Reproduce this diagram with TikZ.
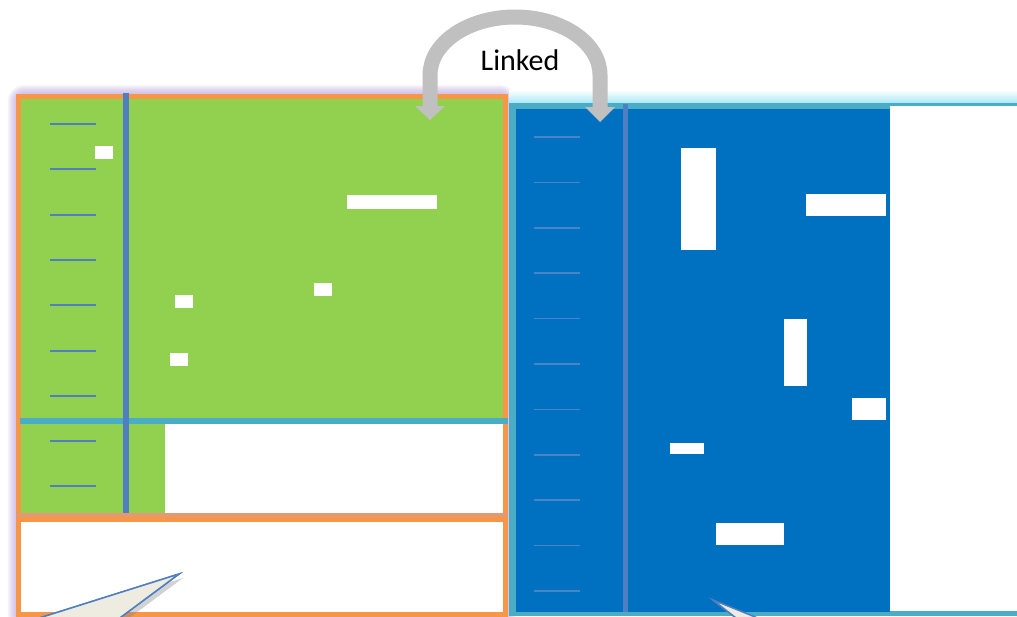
\documentclass[tikz,border=0pt]{standalone}
\usepackage{fontspec}
\setmainfont{Carlito}
\usetikzlibrary{shadows}
\definecolor{lgreen}{HTML}{92D050}
\definecolor{orng}{HTML}{F79646}
\definecolor{aqua}{HTML}{4BACC6}
\definecolor{dblue}{HTML}{0070C0}
\definecolor{sblue}{HTML}{4F7FC0}
\definecolor{tickb}{HTML}{4A86C6}
\definecolor{glowp}{HTML}{B8A0DC}
\definecolor{glowc}{HTML}{A8E8F8}
\definecolor{arrg}{HTML}{C0C0C0}
\definecolor{calfill}{HTML}{EEECE1}
\tikzset{
  blank/.style={fill=white,draw=none},
  tickl/.style={draw=sblue,line width=2pt},
  tickr/.style={draw=tickb,line width=1.5pt},
  callout/.style={fill=calfill,draw=sblue,line width=1.5pt,line join=miter,
    drop shadow={shadow xshift=4pt,shadow yshift=-4pt,opacity=0.35}},
}
\begin{document}
\begin{tikzpicture}[x=1pt,y=-1pt]
\useasboundingbox (0,0) rectangle (1017,616);
\fill[white] (0,0) rectangle (1017,616);
% glows
\foreach \w in {22,20,...,2}
  \draw[glowp,line width=\w pt,opacity=0.09,rounded corners=6pt] (18.5,96) rectangle (505.5,640);
\shade[top color=white,bottom color=glowc] (509,90) rectangle (1017,103);
% ---------- left panel ----------
\fill[lgreen] (21,99) rectangle (503,513);
\fill[white] (165,424) rectangle (503,513);
\draw[orng,line width=5pt] (18.5,96) rectangle (505.5,614);
\fill[white] (21,522) rectangle (503,612);
\fill[color=orng!70!glowp] (16,513) rectangle (508,517);
\draw[orng,line width=5pt] (16,519.5) -- (508,519.5);
\draw[aqua,line width=6pt] (20,421) -- (508,421);
\draw[sblue,line width=6pt] (126,93) -- (126,513);
\foreach \k in {0,...,8}
  \draw[tickl] (50,{124+45.3*\k}) -- (96,{124+45.3*\k});
\fill[blank] (95,146) rectangle (113,159);
\fill[blank] (347,195) rectangle (437,209);
\fill[blank] (175,295) rectangle (193,308);
\fill[blank] (314,283) rectangle (332,296);
\fill[blank] (170,353) rectangle (188,366);
% ---------- right panel ----------
\fill[aqua] (509,103) rectangle (1017,616);
\fill[dblue] (516,109) rectangle (890,612);
\fill[white] (890,106) rectangle (1017,611);
\draw[sblue,line width=5pt] (625,104) -- (625,612);
\foreach \k in {0,...,10}
  \draw[tickr] (534,{137+45.4*\k}) -- (580,{137+45.4*\k});
\fill[blank] (681,148) rectangle (716,250);
\fill[blank] (806,194) rectangle (886,216);
\fill[blank] (784,319) rectangle (807,386);
\fill[blank] (852,398) rectangle (886,420);
\fill[blank] (670,443) rectangle (704,454);
\fill[blank] (716,523) rectangle (784,545);
% ---------- callouts ----------
\coordinate (tipL) at (179,574);
\coordinate (tipR) at (713,600);
\path[callout] (33,620) -- (tipL) -- (117,620);
\fill[calfill] (33,620) -- (tipL) -- (117,620) -- cycle;
\draw[sblue,line width=1.5pt] (33,620) -- (tipL) -- (117,620);
\path[callout] (tipR) -- (745,625) -- (775,625);
\fill[calfill] (tipR) -- (745,625) -- (775,625) -- cycle;
\draw[sblue,line width=1.5pt] (745,625) -- (tipR) -- (775,625);
% ---------- linked arrow ----------
\node[font=\fontsize{30}{32}\selectfont] (lbl) at (520,60) {Linked};
\coordinate (la) at (430,107);
\coordinate (ra) at (600,107);
\draw[arrg,line width=15pt] (la) -- (430,75) arc[start angle=180,end angle=360,x radius=85,y radius=58] -- (ra);
\fill[arrg] (415,106) -- (445,106) -- (430,120) -- cycle;
\fill[arrg] (585,107) -- (615,107) -- (600,122) -- cycle;
\end{tikzpicture}
\end{document}
